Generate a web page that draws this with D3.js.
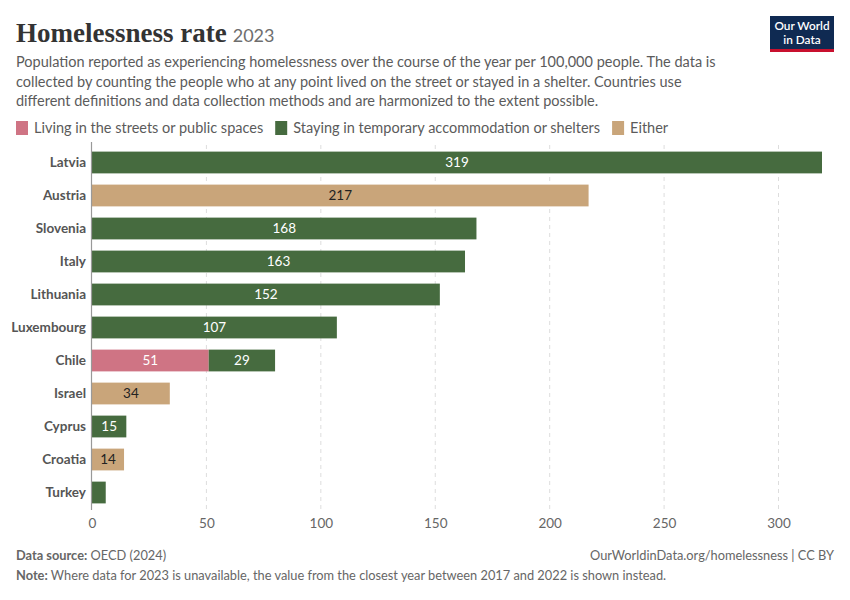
<!DOCTYPE html>
<html>
<head>
<meta charset="utf-8">
<script src="https://cdn.jsdelivr.net/npm/d3@7"></script>
<style>
  body { margin: 0; background: #fff; }
  text { font-family: Lato, "Noto Sans", sans-serif; }
</style>
</head>
<body>
<div id="chart"></div>
<script>
// data
const countries = ["Latvia", "Austria", "Slovenia", "Italy", "Lithuania", "Luxembourg",
  "Chile", "Israel", "Cyprus", "Croatia", "Turkey"];
const streets = [0, 0, 0, 0, 0, 0, 51, 0, 0, 0, 0];
const shelters = [319, 0, 168, 163, 152, 107, 29, 0, 15, 0, 6];
const either = [0, 217, 0, 0, 0, 0, 0, 34, 0, 14, 0];
const seriesNames = ["Living in the streets or public spaces",
  "Staying in temporary accommodation or shelters", "Either"];
const xTicks = [0, 50, 100, 150, 200, 250, 300];

const colors = ["#cf7484", "#466b3f", "#c9a57a"];
const labelColors = ["#fff", "#fff", "#222"];

const W = 850, H = 600;
const svg = d3.select("#chart").append("svg")
  .attr("width", W).attr("height", H);

// title
const title = svg.append("text")
  .attr("x", 16).attr("y", 42)
  .style("font-family", "'Liberation Serif', 'DejaVu Serif', serif")
  .style("font-size", "27px")
  .style("font-weight", 700)
  .style("fill", "#333");
title.append("tspan").text("Homelessness rate");
title.append("tspan").attr("dx", 6)
  .style("font-family", "Lato, sans-serif")
  .style("font-weight", 400)
  .style("font-size", "18px").style("fill", "#6e6e6e").text("2023");

// subtitle
const subLines = [
  "Population reported as experiencing homelessness over the course of the year per 100,000 people. The data is",
  "collected by counting the people who at any point lived on the street or stayed in a shelter. Countries use",
  "different definitions and data collection methods and are harmonized to the extent possible."
];
svg.selectAll(".sub").data(subLines).join("text")
  .attr("x", 16).attr("y", (d, i) => 67 + i * 19.5)
  .style("font-size", "14.5px").style("fill", "#5b5b5b")
  .text(d => d);

// logo
const logo = svg.append("g").attr("transform", "translate(770,16)");
logo.append("rect").attr("width", 64).attr("height", 36).attr("fill", "#0f2a52");
logo.append("rect").attr("y", 33).attr("width", 64).attr("height", 3).attr("fill", "#c8102e");
logo.append("text").attr("x", 32).attr("y", 14).attr("text-anchor", "middle")
  .style("font-size", "11.8px").style("fill", "#fff").style("font-weight", 600).text("Our World");
logo.append("text").attr("x", 32).attr("y", 28).attr("text-anchor", "middle")
  .style("font-size", "11.8px").style("fill", "#fff").style("font-weight", 600).text("in Data");

// legend
let lx = 16;
seriesNames.forEach((name, i) => {
  svg.append("rect").attr("x", lx).attr("y", 121).attr("width", 12).attr("height", 14)
    .attr("fill", colors[i]);
  const t = svg.append("text").attr("x", lx + 18).attr("y", 133)
    .style("font-size", "14.5px").style("fill", "#5b5b5b").text(name);
  lx += 18 + t.node().getComputedTextLength() + 12;
});

// chart area
const plotLeft = 92, plotRight = 822, plotTop = 145, plotBottom = 510;
const x = d3.scaleLinear().domain([0, 319]).range([plotLeft, plotRight]);
const y = d3.scaleBand().domain(countries).range([plotTop, plotBottom]).paddingInner(0.34).paddingOuter(0.2);

// gridlines
svg.append("g").selectAll("line").data(xTicks.filter(d => d > 0)).join("line")
  .attr("x1", d => x(d)).attr("x2", d => x(d))
  .attr("y1", plotTop).attr("y2", plotBottom)
  .attr("stroke", "#ddd").attr("stroke-dasharray", "4,4");

// stacked bars
const rows = countries.map((c, i) => ({ country: c, s0: streets[i], s1: shelters[i], s2: either[i] }));
const stack = d3.stack().keys(["s0", "s1", "s2"])(rows);

stack.forEach((layer, k) => {
  const g = svg.append("g");
  g.selectAll("rect").data(layer).join("rect")
    .attr("x", d => x(d[0]))
    .attr("y", d => y(d.data.country))
    .attr("width", d => x(d[1]) - x(d[0]))
    .attr("height", y.bandwidth())
    .attr("fill", colors[k]);
  g.selectAll("text").data(layer.filter(d => d[1] - d[0] >= 10)).join("text")
    .attr("x", d => (x(d[0]) + x(d[1])) / 2)
    .attr("y", d => y(d.data.country) + y.bandwidth() / 2)
    .attr("dy", "0.36em")
    .attr("text-anchor", "middle")
    .style("font-size", "13.5px")
    .style("fill", labelColors[k])
    .text(d => d[1] - d[0]);
});

// y axis line and labels
svg.append("line").attr("x1", plotLeft - 0.5).attr("x2", plotLeft - 0.5)
  .attr("y1", plotTop - 3).attr("y2", plotBottom)
  .attr("stroke", "#999").attr("stroke-width", 1.2);
svg.append("g").selectAll("text").data(countries).join("text")
  .attr("x", plotLeft - 6).attr("y", d => y(d) + y.bandwidth() / 2)
  .attr("dy", "0.36em").attr("text-anchor", "end")
  .style("font-size", "13.5px").style("font-weight", 700).style("fill", "#555")
  .text(d => d);

// x axis
const xAxis = svg.append("g").attr("transform", `translate(0,${plotBottom + 15})`)
  .call(d3.axisBottom(x).tickValues(xTicks).tickSize(0));
xAxis.select(".domain").remove();
xAxis.selectAll("text").style("font-size", "13.5px").style("fill", "#666")
  .style("font-family", "Lato, sans-serif").attr("dy", 0);

// footer
const src = svg.append("text").attr("x", 16).attr("y", 560)
  .style("font-size", "12.8px").style("fill", "#666");
src.append("tspan").style("font-weight", 700).text("Data source:");
src.append("tspan").text(" OECD (2024)");
svg.append("text").attr("x", 834).attr("y", 560).attr("text-anchor", "end")
  .style("font-size", "12.8px").style("fill", "#666")
  .text("OurWorldinData.org/homelessness | CC BY");
const note = svg.append("text").attr("x", 16).attr("y", 580)
  .style("font-size", "12.8px").style("fill", "#666");
note.append("tspan").style("font-weight", 700).text("Note:");
note.append("tspan").text(" Where data for 2023 is unavailable, the value from the closest year between 2017 and 2022 is shown instead.");
</script>
</body>
</html>
